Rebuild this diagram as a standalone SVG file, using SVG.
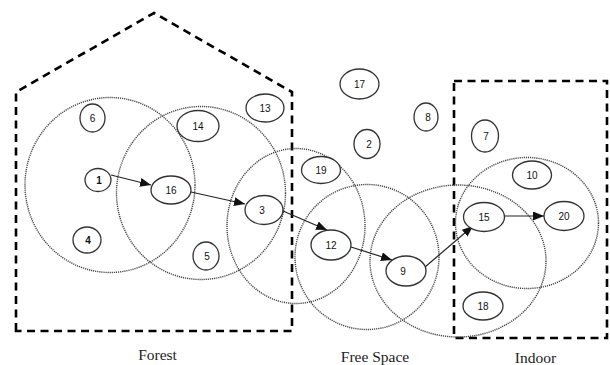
<svg xmlns="http://www.w3.org/2000/svg" width="610" height="365" viewBox="0 0 610 365">
<defs>
<style>
.zone{fill:none;stroke:#000;stroke-width:2.6;stroke-dasharray:8 5.5}
.range{fill:none;stroke:#444;stroke-width:1.4;stroke-dasharray:1.2 0.9}
.node ellipse{fill:#fff;stroke:#333;stroke-width:1.3}
.node text{font-family:"Liberation Sans",Arial,sans-serif;font-size:10px;fill:#111;text-anchor:middle}
.b text{font-weight:bold}
.edge{stroke:#222;stroke-width:1.2;fill:none;marker-end:url(#ah)}
.lbl{font-family:"Liberation Serif","Times New Roman",serif;font-size:15.5px;fill:#222;text-anchor:middle}
</style>
<marker id="ah" viewBox="0 0 11 9" refX="11" refY="4.5" markerWidth="11" markerHeight="9" markerUnits="userSpaceOnUse" orient="auto">
<path d="M0,0 L11,4.5 L0,9 z" fill="#111"/>
</marker>
</defs>
<rect width="610" height="365" fill="#fff"/>
<g id="zones">
<path class="zone" d="M16,331 L16,92 L154,13 L292,92 L292,331 Z"/>
<rect class="zone" x="454" y="81" width="153" height="257"/>
</g>
<g id="ranges">
<ellipse class="range" cx="110" cy="185" rx="85" ry="87.5"/>
<ellipse class="range" cx="201" cy="193" rx="84.5" ry="86.5"/>
<ellipse class="range" cx="296" cy="226" rx="69" ry="77.5"/>
<ellipse class="range" cx="367" cy="257" rx="72" ry="72.5"/>
<ellipse class="range" cx="458" cy="261" rx="88" ry="76"/>
<ellipse class="range" cx="527" cy="223" rx="71.5" ry="65.5"/>
</g>
<g id="connectors">
<line class="edge" x1="111" y1="175" x2="151" y2="185"/>
<line class="edge" x1="191" y1="192" x2="245" y2="204"/>
<line class="edge" x1="283" y1="211" x2="327" y2="230"/>
<line class="edge" x1="351" y1="247" x2="392" y2="260"/>
<line class="edge" x1="425" y1="267" x2="473" y2="226"/>
<line class="edge" x1="505" y1="216" x2="544" y2="216"/>
</g>
<g id="n6" class="node"><ellipse cx="92.5" cy="118" rx="12.5" ry="14"/><text x="92.5" y="121.5">6</text></g>
<g id="n14" class="node"><ellipse cx="198" cy="126" rx="21" ry="15.5"/><text x="198" y="129.5">14</text></g>
<g id="n13" class="node"><ellipse cx="265" cy="108" rx="19" ry="14"/><text x="265" y="111.5">13</text></g>
<g id="n17" class="node"><ellipse cx="359.5" cy="84" rx="19.5" ry="15"/><text x="359.5" y="87.5">17</text></g>
<g id="n8" class="node"><ellipse cx="426" cy="117" rx="12" ry="14"/><text x="428" y="120.5">8</text></g>
<g id="n2" class="node"><ellipse cx="367" cy="144" rx="13" ry="14.5"/><text x="369" y="147.5">2</text></g>
<g id="n7" class="node"><ellipse cx="485" cy="136" rx="13.5" ry="16"/><text x="486" y="139.5">7</text></g>
<g id="n19" class="node"><ellipse cx="321" cy="170" rx="19.5" ry="13.5"/><text x="321" y="173.5">19</text></g>
<g id="n10" class="node"><ellipse cx="532" cy="175" rx="19.5" ry="14"/><text x="532" y="178.5">10</text></g>
<g id="n1" class="node b"><ellipse cx="98" cy="180" rx="13" ry="11.5"/><text x="99" y="183.5">1</text></g>
<g id="n16" class="node"><ellipse cx="171" cy="190" rx="20" ry="14"/><text x="171" y="193.5">16</text></g>
<g id="n3" class="node"><ellipse cx="264" cy="210" rx="19" ry="14.5"/><text x="262" y="213.5">3</text></g>
<g id="n4" class="node b"><ellipse cx="87" cy="240" rx="14" ry="13"/><text x="88" y="243.5">4</text></g>
<g id="n5" class="node"><ellipse cx="206" cy="256" rx="13" ry="14"/><text x="207" y="259.5">5</text></g>
<g id="n12" class="node"><ellipse cx="331" cy="245" rx="20" ry="15"/><text x="331" y="248.5">12</text></g>
<g id="n9" class="node"><ellipse cx="406" cy="271" rx="20" ry="15"/><text x="403" y="274.5">9</text></g>
<g id="n15" class="node"><ellipse cx="484" cy="217" rx="20.5" ry="14.5"/><text x="484" y="220.5">15</text></g>
<g id="n20" class="node"><ellipse cx="564" cy="216" rx="20" ry="14.5"/><text x="564" y="219.5">20</text></g>
<g id="n18" class="node"><ellipse cx="483" cy="306" rx="20" ry="14"/><text x="483" y="309.5">18</text></g>
<g id="labels">
<text class="lbl" x="157.5" y="360">Forest</text>
<text class="lbl" x="375" y="362">Free Space</text>
<text class="lbl" x="535.5" y="363">Indoor</text>
</g>
</svg>
